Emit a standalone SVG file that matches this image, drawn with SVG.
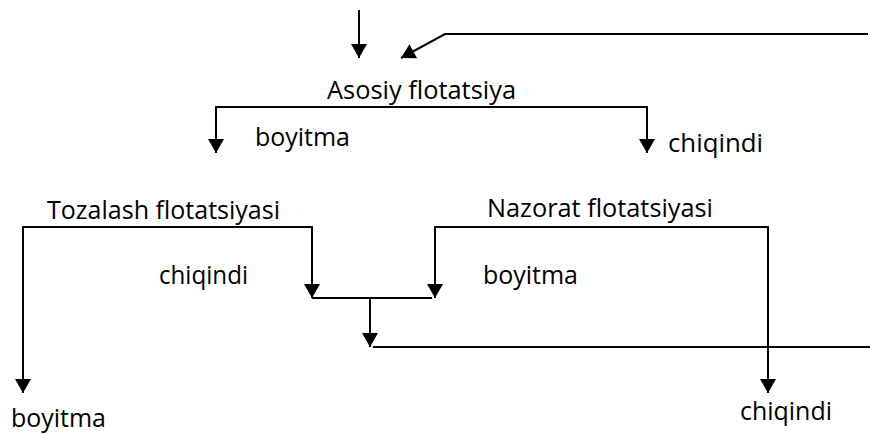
<svg xmlns="http://www.w3.org/2000/svg" width="870" height="435" viewBox="0 0 870 435">
<style>
.ln{fill:none;stroke:#000;stroke-width:2}
.ar{marker-end:url(#ah)}
.t{font-family:"Open Sans","Noto Sans","Liberation Sans",sans-serif;font-size:25px;fill:#000}
</style>
<defs>
<marker id="ah" markerUnits="userSpaceOnUse" markerWidth="16" markerHeight="16" refX="14" refY="8" orient="auto" viewBox="0 0 14 16">
<path d="M0,0 L14,8 L0,16 z" fill="#000"/>
</marker>
</defs>
<rect width="870" height="435" fill="#fff"/>
<g id="connectors">
<path class="ln ar" d="M359,10 V58"/>
<path class="ln ar" d="M868,34 H445 L401,58"/>
<path class="ln ar" d="M432,107 H216 V153"/>
<path class="ln ar" d="M432,107 H647 V153"/>
<path class="ln ar" d="M168,227 H23 V393"/>
<path class="ln ar" d="M168,227 H312 V298"/>
<path class="ln ar" d="M600,227 H435 V298"/>
<path class="ln ar" d="M600,227 H768 V393"/>
<path class="ln" d="M312,298 H432"/>
<path class="ln ar" d="M370,298 V347"/>
<path class="ln" d="M373,347 H870"/>
</g>
<g id="asosiy"><text class="t" x="327" y="99" textLength="189" lengthAdjust="spacingAndGlyphs">Asosiy flotatsiya</text></g>
<g id="boyitma1"><text class="t" x="255" y="146" textLength="95" lengthAdjust="spacingAndGlyphs">boyitma</text></g>
<g id="chiqindi1"><text class="t" x="668" y="152" textLength="95" lengthAdjust="spacingAndGlyphs">chiqindi</text></g>
<g id="tozalash"><text class="t" x="47" y="219" textLength="233" lengthAdjust="spacingAndGlyphs">Tozalash flotatsiyasi</text></g>
<g id="nazorat"><text class="t" x="487" y="217" textLength="226" lengthAdjust="spacingAndGlyphs">Nazorat flotatsiyasi</text></g>
<g id="chiqindi2"><text class="t" x="159" y="284" textLength="89" lengthAdjust="spacingAndGlyphs">chiqindi</text></g>
<g id="boyitma2"><text class="t" x="483" y="284" textLength="95" lengthAdjust="spacingAndGlyphs">boyitma</text></g>
<g id="boyitma3"><text class="t" x="11" y="427" textLength="95" lengthAdjust="spacingAndGlyphs">boyitma</text></g>
<g id="chiqindi3"><text class="t" x="740" y="420" textLength="92" lengthAdjust="spacingAndGlyphs">chiqindi</text></g>
</svg>
